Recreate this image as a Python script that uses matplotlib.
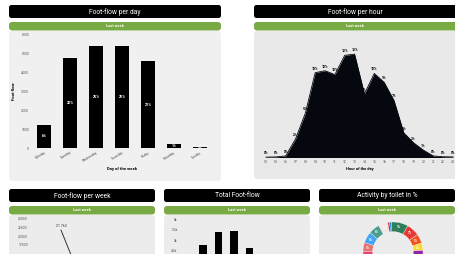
import numpy as np
import matplotlib.pyplot as plt
from matplotlib.patches import FancyBboxPatch

plt.rcParams['font.family'] = ['Roboto', 'DejaVu Sans']

# foot-flow per day (last week)
days = ['Monday', 'Tuesday', 'Wednesday', 'Thursday', 'Friday', 'Saturday', 'Sunday']
day_flow = [1250, 4780, 5400, 5420, 4620, 250, 43]

# foot-flow per hour (last week)
hours = ['00', '02', '06', '07', '08', '09', '10', '11', '12', '13',
         '14', '15', '16', '17', '18', '19', '20', '21', '22', '23']
hour_flow = [10, 15, 40, 480, 1150, 2200, 2250, 2150, 2650, 2680,
             1650, 2180, 1950, 1480, 640, 380, 190, 40, 20, 15]

# foot-flow per week
weeks = ['W1', 'W2']
week_flow = [21763, 2400]

# activity by toilet in %
toilet_pct = [9, 7, 5, 4, 5, 6, 5, 6, 6, 6, 6, 6, 5, 5, 6, 6, 5, 1, 1]
toilet_col = ['#2e7d5b', '#e53935', '#f4511e', '#fdd835', '#8e24aa', '#5e35b1',
              '#3949ab', '#00897b', '#43a047', '#fb8c00', '#6d4c41', '#c2185b',
              '#ec407a', '#e57373', '#42a5f5', '#4a9d8c', '#f3e5e5', '#c62828', '#1e88e5']

W, H = 456, 254
GREEN = '#79ab45'
DARK = '#05080f'

fig = plt.figure(figsize=(W / 100, H / 100), dpi=100)
fig.patch.set_facecolor('white')

# background layer in pixel coordinates
bg = fig.add_axes([0, 0, 1, 1])
bg.set_xlim(0, W)
bg.set_ylim(H, 0)
bg.axis('off')


def box(x0, y0, x1, y1, color, r=2.5):
    bg.add_patch(FancyBboxPatch((x0 + r, y0 + r), x1 - x0 - 2 * r, y1 - y0 - 2 * r,
                                boxstyle='round,pad=%s' % r, fc=color, ec='none'))


def panel(x0, x1, ytop, title, gray, ybottom):
    box(x0, ytop, x1, ytop + 13, 'black')
    bg.text((x0 + min(x1, W)) / 2, ytop + 6.8, title, color='white', fontsize=4.9,
            ha='center', va='center')
    box(x0, ytop + 17, x1, ytop + 25.5, GREEN, r=3)
    bg.text((x0 + min(x1, W)) / 2, ytop + 21.3, 'Last week', color='white', fontsize=2.8,
            fontweight='bold', ha='center', va='center')
    box(x0, ytop + 26, x1, ybottom, gray, r=4)


panel(9, 221, 5, 'Foot-flow per day', '#f0f0f0', 181)
panel(254, 480, 5, 'Foot-flow per hour', '#e9e9e9', 179)
panel(9, 155, 189, 'Foot-flow per week', '#ececec', 280)
panel(164, 310, 189, 'Total Foot-flow', '#ececec', 280)
panel(319, 455, 189, 'Activity by toilet in %', '#ececec', 280)


def pos(x0, y0, x1, y1):
    return [x0 / W, 1 - y1 / H, (x1 - x0) / W, (y1 - y0) / H]


def clean(ax):
    for s in ax.spines.values():
        s.set_visible(False)
    ax.set_facecolor('none')
    ax.tick_params(length=0, colors='#555555', labelsize=2.4, pad=1.5)


# ---- foot-flow per day
ax = fig.add_axes(pos(31.3, 35, 213.3, 148.3))
clean(ax)
x = np.arange(len(days))
total = sum(day_flow)
ax.bar(x, day_flow, width=0.53, color='black')
for i, v in enumerate(day_flow):
    ax.text(i, v / 2, '%d%%' % round(100 * v / total), color='white', fontsize=2.7,
            fontweight='bold', ha='center', va='center')
ax.set_xlim(-0.5, 6.5)
ax.set_ylim(0, 6000)
ax.set_yticks(range(0, 6001, 1000))
ax.set_xticks(x)
ax.set_xticklabels(days, rotation=32, ha='right', rotation_mode='anchor')
ax.set_ylabel('Foot flow', fontsize=3.1, fontweight='bold', labelpad=4)
ax.set_xlabel('Day of the week', fontsize=3.1, fontweight='bold', labelpad=3)

# ---- foot-flow per hour
ax = fig.add_axes(pos(263, 37.8, 456, 157.5))
clean(ax)
hx = np.arange(len(hours))
hp = 100 * np.array(hour_flow) / sum(hour_flow)
ax.fill_between(hx, hp, color=DARK, lw=0)
ax.plot(hx, hp, color=DARK, lw=0.6)
for i, v in enumerate(hp):
    ax.text(i, v + 0.25, '%d%%' % round(v), color='black', fontsize=2.5,
            fontweight='bold', ha='center', va='bottom')
ax.set_xlim(-0.3, 19.3)
ax.set_ylim(0, 14)
ax.set_yticks([])
ax.set_xticks(hx)
ax.set_xticklabels(hours)
ax.set_xlabel('Hour of the day', fontsize=2.9, fontweight='bold', labelpad=2.5)

# ---- foot-flow per week
ax = fig.add_axes(pos(30, 216, 150, 305))
clean(ax)
wx = np.arange(len(weeks))
ax.plot(wx, week_flow, color='#333333', lw=0.7)
ax.text(0, week_flow[0] + 500, '21 763', fontsize=2.5, color='#333333',
        ha='center', va='bottom')
ax.set_xlim(-1.15, 3.3)
ax.set_ylim(0, 25870)
ax.set_yticks(range(17500, 25001, 2500))
ax.set_xticks([])

# ---- total foot-flow
ax = fig.add_axes(pos(179.75, 216, 288.25, 345))
clean(ax)
ax.bar(x, day_flow, width=0.48, color='black')
ax.set_xlim(-0.5, 6.5)
ax.set_ylim(0, 6143)
yt = range(4500, 6001, 500)
ax.set_yticks(yt)
ax.set_yticklabels(['%gk' % (t / 1000) for t in yt])
ax.set_xticks([])

# ---- activity by toilet
ax = fig.add_axes(pos(363, 222, 423, 282))
ax.axis('off')
wedges, _ = ax.pie(toilet_pct, colors=toilet_col, startangle=93, counterclock=False,
                   radius=1, wedgeprops=dict(width=0.32, edgecolor='white', lw=0.2))
ang0 = 93
for p in toilet_pct:
    mid = np.deg2rad(ang0 - p * 3.6 / 2)
    ang0 -= p * 3.6
    lx, ly = 0.84 * np.cos(mid), 0.84 * np.sin(mid)
    # only the upper part of the ring is inside the picture
    if p >= 4 and ly > -0.05:
        ax.text(lx, ly, '%d%%' % p, color='white', fontsize=2.2,
                fontweight='bold', ha='center', va='center')
ax.set_xlim(-1, 1)
ax.set_ylim(-1, 1)

fig.savefig('out.png', dpi=100)
